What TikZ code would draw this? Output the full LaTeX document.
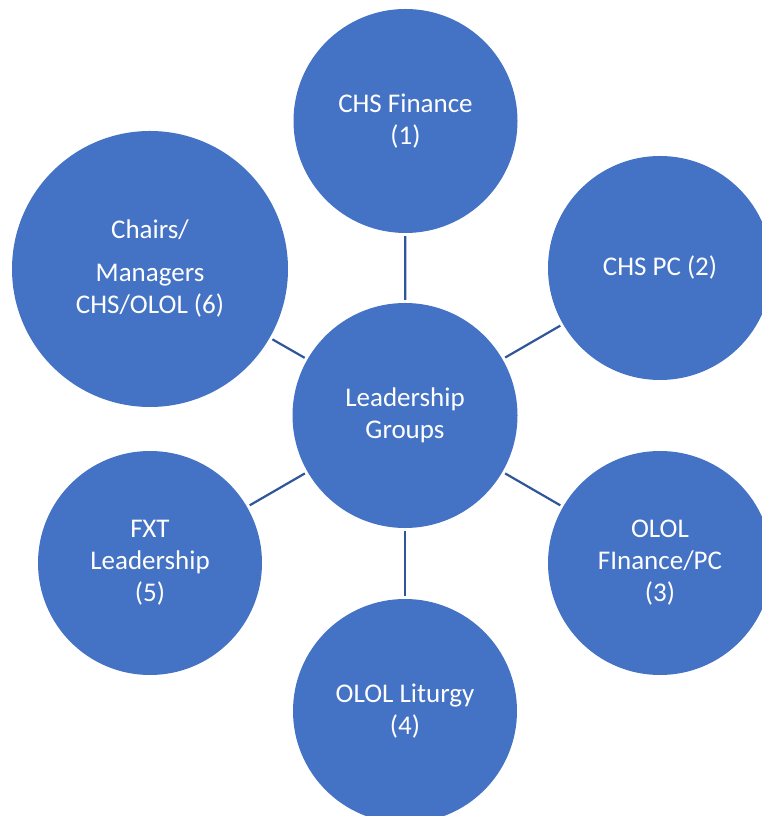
\documentclass[tikz,border=0pt]{standalone}
\usepackage{fontspec}
\setmainfont{Carlito}
\usetikzlibrary{positioning}
\definecolor{groupblue}{HTML}{4472C4}
\definecolor{linkblue}{HTML}{2F559A}
\tikzset{group/.style = {circle, fill=groupblue, text=white, align=center, inner sep=0pt,
    font=\fontsize{27}{32}\selectfont, minimum size=224pt}}
\tikzset{link/.style = {draw=linkblue, line width=2.2pt, shorten <=3pt, shorten >=3pt}}

\begin{document}
\begin{tikzpicture}[x=1pt, y=1pt]
    \useasboundingbox (0, 0) rectangle (761, 816);
    \node [group, minimum size=225pt](L) at (405, 400.5) {Leadership\\Groups};
    \node [group](G1) at (405.5, 695) {CHS Finance\\(1)};
    \node [group](G2) at (660, 548) {CHS PC (2)};
    \node [group](G3) at (660, 253) {OLOL\\FInance/PC\\(3)};
    \node [group](G4) at (405, 105) {OLOL Liturgy\\(4)};
    \node [group](G5) at (150, 253) {FXT\\Leadership\\(5)};
    \node [group, minimum size=276pt](G6) at (150, 547) {Chairs/\\[11pt]Managers\\CHS/OLOL (6)};

    % links from the centre
    \foreach \id in {1,...,6}
    {
        \draw [link] (L) -- (G\id);
    }
\end{tikzpicture}
\end{document}
